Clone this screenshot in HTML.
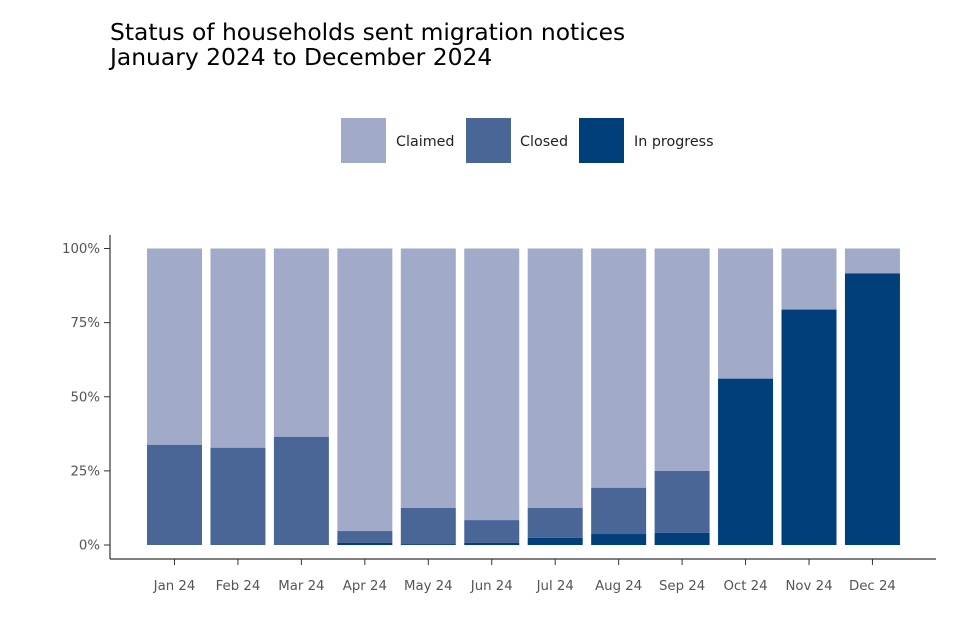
<!DOCTYPE html>
<html><head><meta charset="utf-8"><style>
body{margin:0;background:#fff;font-family:"DejaVu Sans","Liberation Sans",sans-serif;}
</style></head><body>
<svg width="960" height="640" xmlns="http://www.w3.org/2000/svg">
<text x="110" y="40" font-size="23.4" fill="#000">Status of households sent migration notices</text>
<text x="110" y="65" font-size="23.4" fill="#000">January 2024 to December 2024</text>
<g>
<rect x="341" y="118" width="45" height="45" fill="#a1abc9"/>
<text x="396" y="146" font-size="14.3" fill="#222">Claimed</text>
<rect x="466" y="118" width="45" height="45" fill="#4a6697"/>
<text x="520" y="146" font-size="14.3" fill="#222">Closed</text>
<rect x="579" y="118" width="45" height="45" fill="#003f7a"/>
<text x="634" y="146" font-size="14.3" fill="#222">In progress</text>
</g>
<g id="plot"></g>
</svg>
<script>
const categories=["Jan 24","Feb 24","Mar 24","Apr 24","May 24","Jun 24","Jul 24","Aug 24","Sep 24","Oct 24","Nov 24","Dec 24"];
const inProgress=[0,0,0,0.7,0.3,0.7,2.4,3.7,4.1,56.1,79.4,91.6];
const closed=[33.8,32.8,36.5,4.0,12.2,7.7,10.1,15.6,20.9,0,0,0];
const yTicks=[0,25,50,75,100];
const yTickLabels=["0%","25%","50%","75%","100%"];
const NS="http://www.w3.org/2000/svg";
const g=document.getElementById('plot');
const y=v=>545-v*2.965;
const x=i=>174.5+i*63.45;
const bw=55;
function el(t,a){const e=document.createElementNS(NS,t);for(const k in a)e.setAttribute(k,a[k]);g.appendChild(e);return e;}
let ax=el('line',{x1:110,y1:235,x2:110,y2:559,stroke:'#333','stroke-width':1.2});


let bx=el('line',{x1:110,y1:559,x2:936,y2:559,stroke:'#333','stroke-width':1.2});


yTicks.forEach((t,i)=>{
 let l=el('line',{x1:104,x2:110,y1:y(t),y2:y(t),stroke:'#333'});
 
 
 let tx=el('text',{x:100,y:y(t)+4.5,'font-size':13.3,fill:'#555','text-anchor':'end'});
 tx.textContent=yTickLabels[i];
 
 
});
categories.forEach((c,i)=>{
 const ip=inProgress[i],cl=closed[i];
 let r1=el('rect',{x:x(i)-bw/2,y:y(100),width:bw,height:y(ip+cl)-y(100),fill:'#a1abc9'});
 
 
 let r2=el('rect',{x:x(i)-bw/2,y:y(ip+cl),width:bw,height:y(ip)-y(ip+cl),fill:'#4a6697'});
 
 
 let r3=el('rect',{x:x(i)-bw/2,y:y(ip),width:bw,height:y(0)-y(ip),fill:'#003f7a'});
 
 
 let tk=el('line',{x1:x(i),x2:x(i),y1:559,y2:565,stroke:'#333'});
 
 
 let tx=el('text',{x:x(i),y:590,'font-size':13.3,fill:'#555','text-anchor':'middle'});
 tx.textContent=c;
 
 
});
</script>
</body></html>
